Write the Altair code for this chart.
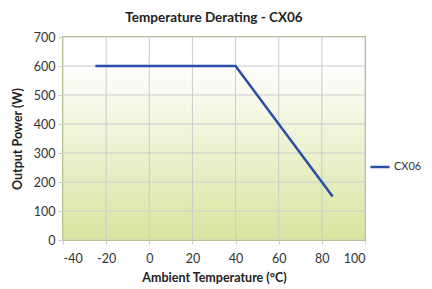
import altair as alt
import pandas as pd

# ---- data ----
temps = [-25, 40, 85]
power = [600, 600, 150]
series = ["CX06", "CX06", "CX06"]
x_ticks = [-40, -20, 0, 20, 40, 60, 80, 100]
y_ticks = [0, 100, 200, 300, 400, 500, 600, 700]

W, H = 302, 203
FONT = "Lato"
GREEN = "#9bbb59"
GRID = "#cccccc"

line_df = pd.DataFrame({"temp": temps, "power": power, "series": series})
xgrid_df = pd.DataFrame({"temp": x_ticks})
ygrid_df = pd.DataFrame({"power": y_ticks})
bg_df = pd.DataFrame({"a": [0]})

xscale = alt.Scale(domain=[-40, 100], nice=False)
yscale = alt.Scale(domain=[0, 700], nice=False)

xaxis = alt.Axis(values=x_ticks, title="Ambient Temperature (°C)", grid=False, domain=False,
                 labelExpr="toString(datum.value)",
                 tickColor=GRID, tickSize=4, labelFontSize=12.5, labelColor="#333333",
                 labelFont=FONT, titleFont=FONT, titleFontSize=12.5, titleFontWeight="bold",
                 titleColor="#222222", labelPadding=8, titlePadding=7)
yaxis = alt.Axis(values=y_ticks, title="Output Power (W)", grid=False, domain=False,
                 tickColor=GRID, tickSize=5, labelFontSize=12.5, labelColor="#333333",
                 labelFont=FONT, titleFont=FONT, titleFontSize=12.5, titleFontWeight="bold",
                 titleColor="#222222", labelPadding=3, titlePadding=9)

bg = alt.Chart(bg_df).mark_rect(
    fill=alt.Gradient(
        gradient="linear",
        stops=[alt.GradientStop(color="#ffffff", offset=0),
               alt.GradientStop(color="#ffffff", offset=0.12),
               alt.GradientStop(color="#d8e59f", offset=1)],
        x1=0, x2=0, y1=0, y2=1),
).encode(x=alt.value(0), x2=alt.value(W), y=alt.value(0), y2=alt.value(H))

xgrid = alt.Chart(xgrid_df).mark_rule(color=GRID, strokeWidth=1).encode(
    x=alt.X("temp:Q", scale=xscale, axis=xaxis))
ygrid = alt.Chart(ygrid_df).mark_rule(color=GRID, strokeWidth=1).encode(
    y=alt.Y("power:Q", scale=yscale, axis=yaxis))

line = alt.Chart(line_df).mark_line(strokeWidth=2.5).encode(
    x=alt.X("temp:Q", scale=xscale, axis=xaxis),
    y=alt.Y("power:Q", scale=yscale, axis=yaxis),
    color=alt.Color("series:N", scale=alt.Scale(range=["#2a4ea6"]),
                    legend=alt.Legend(title=None, orient="none", legendX=306, legendY=119,
                                      symbolType="stroke", symbolSize=361, symbolStrokeWidth=2.5,
                                      labelFontSize=11, labelFont=FONT, labelColor="#333333",
                                      labelOffset=3)),
)

chart = alt.layer(bg, xgrid, ygrid, line).properties(
    width=W, height=H,
    title=alt.TitleParams("Temperature Derating - CX06", font=FONT, fontSize=13.5,
                          fontWeight="bold", color="#222222", anchor="middle", offset=7),
    autosize=alt.AutoSizeParams(type="none"),
    padding={"left": 55, "top": 29, "right": 59, "bottom": 49},
).configure_view(stroke=GREEN, strokeWidth=2)

chart.save("out.html", embed_options={"renderer": "svg", "actions": False})
